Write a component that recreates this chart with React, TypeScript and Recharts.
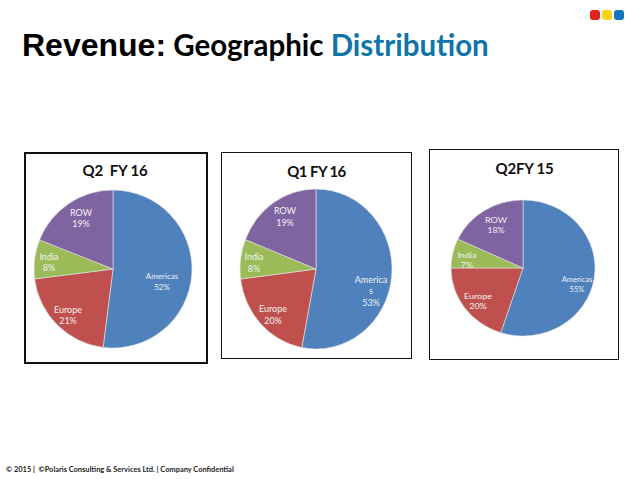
import React from "react";
import { PieChart, Pie, Cell } from "recharts";

const regions = ["Americas", "Europe", "India", "ROW"];
const q2fy16 = [52, 21, 8, 19];
const q1fy16 = [53, 20, 8, 19];
const q2fy15 = [55, 20, 7, 18];
const colors = ["#4f81bd", "#c0504d", "#9bbb59", "#8064a2"];
const dots = ["#e2231a", "#f7d417", "#0f75bc"];

const panels = [
  {
    title: "Q2  FY 16", values: q2fy16, box: [24, 152, 184, 212], border: 2, cx: 113, cy: 269, rx: 79, ry: 79, titleX: 115, titleY: 170, spacing: -0.2,
    offsets: [[49, 12], [-45, 45], [-64, -8], [-32, -52]], lines: [["Americas"], ["Europe"], ["India"], ["ROW"]], sizes: [8, 9, 9, 9],
  },
  {
    title: "Q1 FY 16", values: q1fy16, box: [221, 152, 191, 207], border: 1, cx: 316, cy: 269, rx: 76, ry: 80, titleX: 316.5, titleY: 171, spacing: -0.6,
    offsets: [[55, 21], [-43, 45], [-62, -7], [-31, -53]], lines: [["America", "s"], ["Europe"], ["India"], ["ROW"]], sizes: [9, 9, 9, 9],
  },
  {
    title: "Q2FY 15", values: q2fy15, box: [429, 149, 190, 211], border: 1, cx: 523, cy: 268, rx: 72, ry: 68, titleX: 524.5, titleY: 168, spacing: -0.2,
    offsets: [[54, 16], [-45, 32], [-56, -9], [-27, -44]], lines: [["Americas"], ["Europe"], ["India"], ["ROW"]], sizes: [7.6, 9, 9, 9],
  },
];

const SliceLabel = ({ cx, cy, index, value, panel, inv }: any) => {
  const [dx, dy] = panel.offsets[index];
  const rows = [...panel.lines[index], `${value}%`];
  const size = panel.sizes[index];
  const lh = 11;
  const x = cx + dx;
  const y0 = cy + dy * inv - ((rows.length - 1) * lh) / 2;
  return (
    <text x={x} y={y0} textAnchor="middle" dominantBaseline="central" fill="#f1f1f1" fontSize={size} fontFamily="Lato">
      {rows.map((r: string, i: number) => (
        <tspan key={i} x={x} dy={i === 0 ? 0 : lh}>{r}</tspan>
      ))}
    </text>
  );
};

function Panel({ panel }: any) {
  const size = 200;
  const r = panel.rx;
  const sy = panel.ry / panel.rx;
  const rows = regions.map((name, i) => ({ name, value: panel.values[i] }));
  const [bx, by, bw, bh] = panel.box;
  return (
    <>
      <div style={{ position: "absolute", left: bx, top: by, width: bw, height: bh, boxSizing: "border-box", border: `${panel.border}px solid #111`, background: "#fff" }} />
      <div style={{ position: "absolute", left: panel.titleX - 80, top: panel.titleY - 12, width: 160, height: 24, lineHeight: "24px", textAlign: "center", fontFamily: "Lato", fontWeight: 700, fontSize: 15, letterSpacing: panel.spacing, color: "#111", whiteSpace: "pre" }}>{panel.title}</div>
      <div style={{ position: "absolute", left: panel.cx - size / 2, top: panel.cy - size / 2, width: size, height: size, transform: `scaleY(${sy})` }}>
        <PieChart width={size} height={size} margin={{ top: 0, right: 0, bottom: 0, left: 0 }}>
          <Pie
            data={rows}
            dataKey="value"
            nameKey="name"
            cx={size / 2}
            cy={size / 2}
            outerRadius={r}
            startAngle={90}
            endAngle={-270}
            stroke="#e6e6e6"
            strokeWidth={0.6}
            isAnimationActive={false}
            labelLine={false}
            label={(p: any) => <SliceLabel {...p} panel={panel} inv={1 / sy} />}
          >
            {rows.map((_, i) => <Cell key={i} fill={colors[i]} />)}
          </Pie>
        </PieChart>
      </div>
    </>
  );
}

export default function App() {
  return (
    <div style={{ position: "absolute", left: 0, top: 0, width: 638, height: 479, background: "#fff", overflow: "hidden" }}>
      <div style={{ position: "absolute", left: 22, top: 25, lineHeight: "40px", whiteSpace: "pre", color: "#000" }}>
        <span style={{ fontFamily: "Liberation Sans", fontWeight: 700, fontSize: 32 }}>Revenue:</span>
        <span style={{ fontFamily: "Lato", fontWeight: 700, fontSize: 29.5 }}> Geographic </span>
        <span style={{ fontFamily: "Lato", fontWeight: 700, fontSize: 29.5, color: "#0f75a8" }}>Distribution</span>
      </div>
      {dots.map((c, i) => (
        <div key={c} style={{ position: "absolute", left: 590 + i * 12, top: 10, width: 10, height: 10, borderRadius: 3, background: c }} />
      ))}
      {panels.map((p) => <Panel key={p.title} panel={p} />)}
      <div style={{ position: "absolute", left: 6, top: 463, lineHeight: "14px", fontFamily: "Lato", fontWeight: 700, fontSize: 7.45, color: "#222", whiteSpace: "pre" }}>© 2015 |  ©Polaris Consulting &amp; Services Ltd. | Company Confidential</div>
    </div>
  );
}
